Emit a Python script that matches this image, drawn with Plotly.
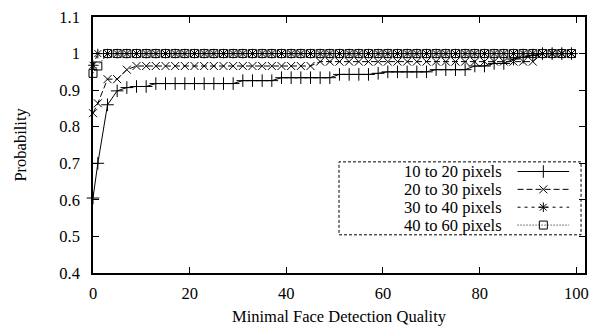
import plotly.graph_objects as go

# ---------------- data ----------------
x_vals = [0, 1] + list(range(3, 100, 2))

s1_name = "10 to 20 pixels"
s1 = [0.605, 0.70, 0.86, 0.898, 0.907, 0.91, 0.91,
      0.918, 0.918, 0.918, 0.918, 0.918, 0.918, 0.918, 0.918, 0.918,
      0.926, 0.926, 0.926, 0.926,
      0.934, 0.934, 0.934, 0.934, 0.934, 0.934,
      0.943, 0.943, 0.943, 0.943,
      0.946, 0.950, 0.950, 0.950, 0.950, 0.950,
      0.956, 0.956, 0.956, 0.956,
      0.966, 0.966, 0.973, 0.973, 0.985, 0.99, 0.995,
      1.0, 1.0, 1.0, 1.0]

s2_name = "20 to 30 pixels"
s2 = [0.837, 0.864, 0.930, 0.930, 0.956] + [0.966] * 19 + [0.978] * 23 + [1.0] * 4

s3_name = "30 to 40 pixels"
s3 = [0.968] + [1.0] * 50

s4_name = "40 to 60 pixels"
s4 = [0.946, 0.966] + [1.0] * 49

names = [s1_name, s2_name, s3_name, s4_name]
series = [s1, s2, s3, s4]

x_ticks = [0, 20, 40, 60, 80, 100]
y_ticks = [0.4, 0.5, 0.6, 0.7, 0.8, 0.9, 1.0, 1.1]
y_tick_text = ["0.4", "0.5", "0.6", "0.7", "0.8", "0.9", "1", "1.1"]

# ---------------- style ----------------
W, H = 597, 329
L, R, T, B = 93, 8, 15, 56
PW, PH = W - L - R, H - T - B
FONT = "Liberation Serif"
FS = 16.5

symbols = ["cross-thin-open", "x-thin-open", "asterisk-open", "square-open"]
dashes = ["solid", "6px,3px", "3px,4px", "1px,2px"]
msizes = [9, 8, 8, 8]

fig = go.Figure()
for name, ys, sym, dash, ms in zip(names, series, symbols, dashes, msizes):
    fig.add_trace(go.Scatter(
        x=x_vals[:len(ys)], y=ys, mode="lines+markers", name=name,
        line=dict(color="black", width=1, dash=dash),
        marker=dict(symbol=sym, size=ms, color="black", line=dict(color="black", width=1)),
        cliponaxis=False, showlegend=False))

# ---------------- custom legend (text left, sample right) ----------------
def px2fx(px):
    return (px - L) / PW

def py2fy(py):
    return (T + PH - py) / PH

legend_rows_py = [170.7, 188.7, 206.7, 224.7]
text_right_px = 507
sample_x0, sample_x1 = 521, 573
sample_mid = (sample_x0 + sample_x1) / 2

for name, sym, dash, ms, py in zip(names, symbols, dashes, msizes, legend_rows_py):
    fig.add_annotation(x=px2fx(text_right_px), y=py2fy(py), xref="paper", yref="paper",
                       text=name, showarrow=False, xanchor="right", yanchor="middle",
                       font=dict(family=FONT, size=FS, color="black"))
    fig.add_trace(go.Scatter(
        x=[px2fx(sample_x0), px2fx(sample_x1)], y=[py2fy(py)] * 2, mode="lines",
        line=dict(color="black", width=1, dash=dash), xaxis="x2", yaxis="y2",
        showlegend=False, hoverinfo="skip"))
    fig.add_trace(go.Scatter(
        x=[px2fx(sample_mid)], y=[py2fy(py)], mode="markers",
        marker=dict(symbol=sym, size=ms, color="black", line=dict(color="black", width=1)),
        xaxis="x2", yaxis="y2", showlegend=False, hoverinfo="skip"))

fig.add_shape(type="rect", xref="paper", yref="paper",
              x0=px2fx(341), x1=px2fx(585), y0=py2fy(234.5), y1=py2fy(161),
              line=dict(color="black", width=1, dash="3px,2px"), fillcolor="rgba(0,0,0,0)")

# axis titles
fig.add_annotation(x=0.5, y=py2fy(317), xref="paper", yref="paper",
                   text="Minimal Face Detection Quality", showarrow=False,
                   xanchor="center", yanchor="middle",
                   font=dict(family=FONT, size=FS, color="black"))
fig.add_annotation(x=px2fx(19), y=0.5, xref="paper", yref="paper",
                   text="Probability", showarrow=False, textangle=-90,
                   xanchor="center", yanchor="middle",
                   font=dict(family=FONT, size=FS, color="black"))

axis_common = dict(showgrid=False, zeroline=False, showline=True, linecolor="black",
                   linewidth=1.5, mirror="ticks", ticks="inside", ticklen=6,
                   tickwidth=1, tickcolor="black",
                   tickfont=dict(family=FONT, size=FS, color="black"))

fig.update_layout(
    width=W, height=H,
    margin=dict(l=L, r=R, t=T, b=B, pad=0),
    paper_bgcolor="white", plot_bgcolor="white",
    showlegend=False,
    xaxis=dict(range=[0, 101.8], tickvals=x_ticks, ticklabelstandoff=4, **axis_common),
    yaxis=dict(range=[0.4, 1.1], tickvals=y_ticks, ticktext=y_tick_text,
               ticklabelstandoff=8, **axis_common),
    xaxis2=dict(overlaying="x", range=[0, 1], visible=False),
    yaxis2=dict(overlaying="y", range=[0, 1], visible=False),
)

fig.write_html("out.html")
